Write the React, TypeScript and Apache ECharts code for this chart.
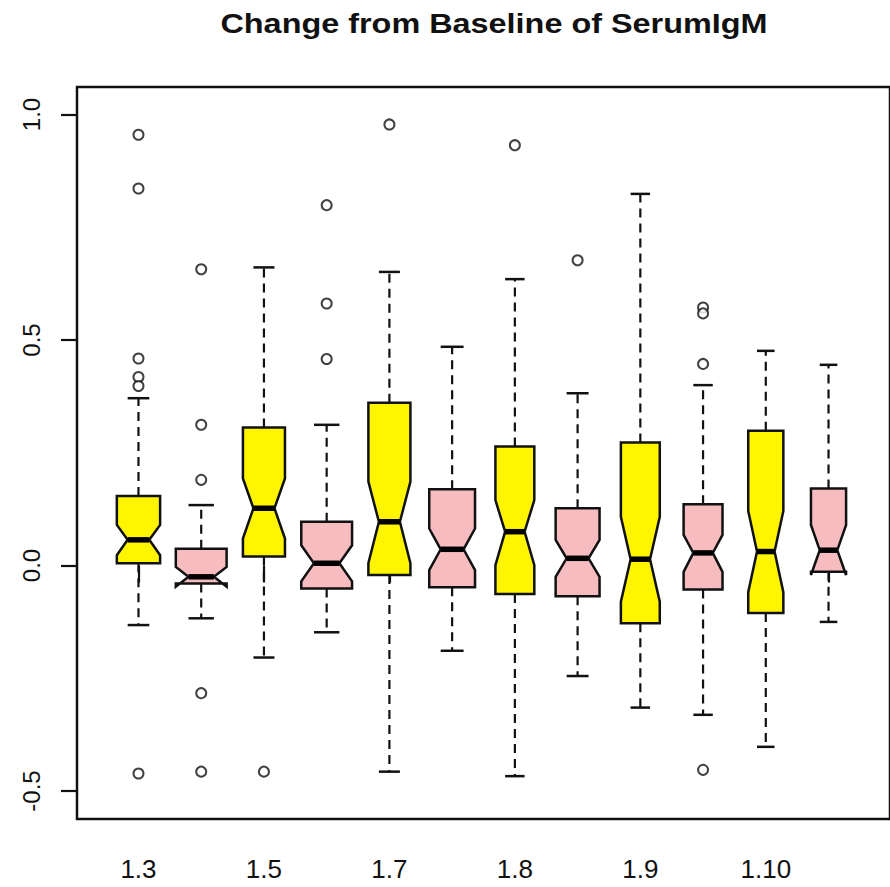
import React, { useEffect, useRef } from "react";
import * as echarts from "echarts";

// ---------- data ----------
const categories = ["1.3", "2.3", "1.5", "2.5", "1.7", "2.7", "1.8", "2.8", "1.9", "2.9", "1.10", "2.10"];
const lowWhisker = [-0.132, -0.117, -0.204, -0.148, -0.457, -0.189, -0.467, -0.245, -0.315, -0.331, -0.402, -0.125];
const q1 = [0.005, -0.040, 0.020, -0.051, -0.021, -0.048, -0.063, -0.068, -0.128, -0.053, -0.105, -0.014];
const median = [0.057, -0.025, 0.127, 0.005, 0.097, 0.036, 0.075, 0.016, 0.014, 0.028, 0.031, 0.034];
const q3 = [0.154, 0.037, 0.306, 0.097, 0.361, 0.169, 0.264, 0.127, 0.273, 0.136, 0.299, 0.171];
const highWhisker = [0.371, 0.134, 0.661, 0.312, 0.651, 0.485, 0.635, 0.382, 0.824, 0.400, 0.476, 0.445];
const notchLo = [0.023, -0.047, 0.060, -0.035, 0.005, -0.010, 0.001, -0.025, -0.080, -0.014, -0.059, -0.021];
const notchHi = [0.090, -0.003, 0.193, 0.045, 0.186, 0.082, 0.145, 0.057, 0.108, 0.068, 0.121, 0.090];
const outliers: number[][] = [
  [0.955, 0.836, 0.459, 0.418, 0.398, -0.461],
  [0.657, 0.312, 0.190, -0.283, -0.457],
  [-0.457],
  [0.799, 0.581, 0.458],
  [0.978],
  [],
  [0.932],
  [0.677],
  [],
  [0.572, 0.559, 0.447, -0.453],
  [],
  [],
];
const yTicks = [-0.5, 0.0, 0.5, 1.0];
const titleText = "Change from Baseline of SerumIgM";

// ---------- styles ----------
const BOX_WIDTH = [0.69, 0.81, 0.67, 0.81, 0.67, 0.73, 0.62, 0.7, 0.62, 0.62, 0.56, 0.56];
const FILL = ["#FFF500", "#F7BCC0"];
const FONT = "'Liberation Sans', Arial, Helvetica, sans-serif";

export default function App() {
  const ref = useRef<HTMLDivElement>(null);

  useEffect(() => {
    document.body.style.margin = "0";
    const chart = echarts.init(ref.current as HTMLDivElement, null, { renderer: "svg" });

    const boxData = categories.map((_, i) => [
      i + 1,
      lowWhisker[i],
      q1[i],
      median[i],
      q3[i],
      highWhisker[i],
      notchLo[i],
      notchHi[i],
    ]);
    const outlierData: number[][] = [];
    outliers.forEach((arr, i) => arr.forEach((v) => outlierData.push([i + 1, v])));

    const renderItem = (params: any, api: any) => {
      const i = params.dataIndex;
      const xv = api.value(0);
      const lo = api.value(1);
      const a = api.value(2);
      const m = api.value(3);
      const b = api.value(4);
      const hi = api.value(5);
      const nl = api.value(6);
      const nh = api.value(7);
      const cx = api.coord([xv, m])[0];
      const y = (v: number) => api.coord([xv, v])[1];
      const half = api.size([BOX_WIDTH[i], 0])[0] / 2;
      const xl = cx - half;
      const xr = cx + half;
      const ml = cx - half / 2;
      const mr = cx + half / 2;
      const dash = { stroke: "#111", lineWidth: 2.2, lineDash: [9, 6], fill: null };
      const solid = { stroke: "#111", lineWidth: 2.5, fill: null };
      return {
        type: "group",
        children: [
          { type: "line", shape: { x1: cx, y1: y(b), x2: cx, y2: y(hi) }, style: dash },
          { type: "line", shape: { x1: cx, y1: y(a), x2: cx, y2: y(lo) }, style: dash },
          { type: "line", shape: { x1: ml, y1: y(hi), x2: mr, y2: y(hi) }, style: solid },
          { type: "line", shape: { x1: ml, y1: y(lo), x2: mr, y2: y(lo) }, style: solid },
          {
            type: "polygon",
            shape: {
              points: [
                [xl, y(a)],
                [xl, y(nl)],
                [ml, y(m)],
                [xl, y(nh)],
                [xl, y(b)],
                [xr, y(b)],
                [xr, y(nh)],
                [mr, y(m)],
                [xr, y(nl)],
                [xr, y(a)],
              ],
            },
            style: { fill: FILL[i % 2], stroke: "#111", lineWidth: 2.5, lineJoin: "miter" },
          },
          { type: "line", shape: { x1: ml, y1: y(m), x2: mr, y2: y(m) }, style: { stroke: "#000", lineWidth: 5.5 } },
        ],
      };
    };

    const option: any = {
      animation: false,
      backgroundColor: "#ffffff",
      graphic: [
        {
          type: "text",
          x: 494,
          y: 23,
          scaleX: 1.2,
          style: {
            text: titleText,
            fill: "#111",
            font: `bold 27px ${FONT}`,
            textAlign: "center",
            textVerticalAlign: "middle",
            align: "center",
            verticalAlign: "middle",
          },
        },
      ],
      grid: {
        left: 77,
        right: -16,
        top: 87,
        bottom: 68,
        show: true,
        borderColor: "#111",
        borderWidth: 2.5,
        backgroundColor: "transparent",
      },
      xAxis: {
        type: "value",
        min: 0.02,
        max: 12.98,
        splitLine: { show: false },
        axisLine: { show: false },
        axisTick: {
          show: true,
          inside: false,
          length: 17,
          lineStyle: { color: "#111", width: 2.2 },
          customValues: categories.map((_, i) => i + 1),
        },
        axisLabel: {
          show: true,
          margin: 37,
          fontSize: 26,
          fontFamily: FONT,
          color: "#111",
          customValues: categories.map((_, i) => i + 1).filter((v) => v % 2 === 1),
          formatter: (v: number) => categories[Math.round(v) - 1] ?? "",
        },
      },
      yAxis: {
        type: "value",
        min: -0.562,
        max: 1.061,
        splitLine: { show: false },
        axisLine: { show: false },
        axisTick: {
          show: true,
          inside: false,
          length: 16,
          lineStyle: { color: "#111", width: 2.2 },
          customValues: yTicks,
        },
        axisLabel: {
          show: true,
          rotate: 90,
          margin: 34,
          fontSize: 24,
          fontFamily: FONT,
          color: "#111",
          customValues: yTicks,
          formatter: (v: number) => v.toFixed(1),
        },
      },
      series: [
        {
          type: "custom",
          renderItem,
          data: boxData,
          encode: { x: 0, y: [1, 2, 3, 4, 5] },
          clip: false,
        },
        {
          type: "scatter",
          data: outlierData,
          symbol: "emptyCircle",
          symbolSize: 10,
          itemStyle: { color: "#111", borderColor: "#111", borderWidth: 2.2 },
        },
      ],
    };

    chart.setOption(option);
    return () => chart.dispose();
  }, []);

  return (
    <div
      ref={ref}
      style={{ position: "fixed", left: 0, top: 0, width: 890, height: 887, background: "#fff" }}
    />
  );
}
